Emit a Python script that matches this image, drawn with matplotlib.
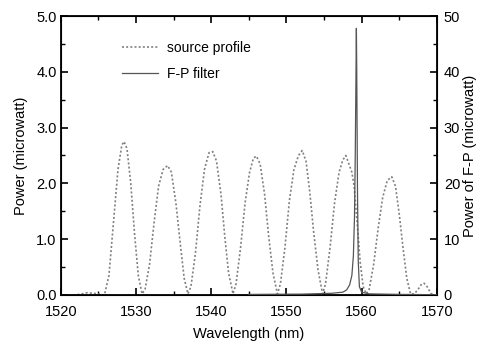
import matplotlib.pyplot as plt
from matplotlib.ticker import MultipleLocator

plt.rcParams['font.family'] = ['Liberation Sans', 'DejaVu Sans']

# source profile (left axis, microwatt)
src_wl = [1520.0, 1522.0, 1522.8, 1523.5, 1524.3, 1525.0, 1525.5,
          1525.8, 1526.4, 1527.0, 1527.6, 1528.1, 1528.4, 1528.8, 1529.3, 1529.8, 1530.3, 1530.8,
          1531.2, 1531.8, 1532.4, 1533.0, 1533.6, 1534.2, 1534.7, 1535.3, 1535.9, 1536.4, 1536.9,
          1537.3, 1537.9, 1538.5, 1539.1, 1539.7, 1540.2, 1540.7, 1541.3, 1541.8, 1542.3, 1542.9,
          1543.3, 1543.9, 1544.5, 1545.1, 1545.6, 1546.0, 1546.5, 1547.1, 1547.6, 1548.2, 1548.8,
          1549.2, 1549.8, 1550.4, 1551.0, 1551.6, 1552.1, 1552.6, 1553.1, 1553.6, 1554.2, 1554.8,
          1555.2, 1555.8, 1556.4, 1557.0, 1557.5, 1557.9, 1558.3, 1558.7, 1559.0, 1559.4, 1559.8,
          1560.2, 1560.6,
          1561.0, 1561.6, 1562.2, 1562.8, 1563.4, 1564.0, 1564.5, 1565.0, 1565.5, 1566.0, 1566.5,
          1567.0, 1567.5, 1568.0, 1568.3, 1568.7, 1569.2, 1569.6]
src_pw = [0.0, 0.0, 0.02, 0.04, 0.03, 0.02, 0.0,
          0.0, 0.35, 1.30, 2.25, 2.68, 2.75, 2.62, 2.00, 1.10, 0.35, 0.02,
          0.10, 0.55, 1.30, 1.95, 2.25, 2.32, 2.20, 1.65, 0.90, 0.30, 0.02,
          0.15, 0.75, 1.60, 2.25, 2.55, 2.57, 2.40, 1.80, 1.05, 0.40, 0.02,
          0.20, 0.85, 1.65, 2.20, 2.45, 2.49, 2.35, 1.80, 1.10, 0.40, 0.02,
          0.20, 0.85, 1.70, 2.25, 2.50, 2.59, 2.40, 1.85, 1.15, 0.45, 0.02,
          0.20, 0.85, 1.65, 2.20, 2.42, 2.50, 2.35, 2.20, 1.95, 1.30, 0.60,
          0.15, 0.02,
          0.10, 0.55, 1.20, 1.75, 2.05, 2.12, 1.95, 1.45, 0.85, 0.30, 0.02,
          0.02, 0.10, 0.20, 0.21, 0.15, 0.03, 0.0]

# F-P filter transmission (right axis, microwatt)
fp_wl = [1545.0, 1552.0, 1556.0, 1557.5, 1558.0, 1558.4, 1558.7, 1558.9, 1559.05, 1559.15,
         1559.25, 1559.3, 1559.35, 1559.45, 1559.55, 1559.7, 1560.0, 1561.0, 1565.0, 1570.0]
fp_pw = [0.1, 0.15, 0.3, 0.5, 0.9, 1.8, 3.5, 7.0, 14.0, 25.0,
         40.0, 47.8, 40.0, 18.0, 6.0, 1.5, 0.5, 0.2, 0.1, 0.05]

fig = plt.figure(figsize=(4.79, 3.41), dpi=100)
ax = fig.add_axes([0.127, 0.135, 0.785, 0.818])
ax2 = ax.twinx()

l1, = ax.plot(src_wl, src_pw, color='#808080', lw=1.2, ls=(0, (1.2, 1.3)), label='source profile')
l2, = ax2.plot(fp_wl, fp_pw, color='#555555', lw=0.9, label='F-P filter')

ax.set_xlim(1520, 1570)
ax.set_ylim(0, 5.0)
ax2.set_ylim(0, 50)

ax.xaxis.set_major_locator(MultipleLocator(10))
ax.xaxis.set_minor_locator(MultipleLocator(5))
ax.yaxis.set_major_locator(MultipleLocator(1.0))
ax.yaxis.set_minor_locator(MultipleLocator(0.5))
ax.yaxis.set_major_formatter(plt.FormatStrFormatter('%.1f'))
ax2.yaxis.set_major_locator(MultipleLocator(10))
ax2.yaxis.set_minor_locator(MultipleLocator(5))

ax.tick_params(axis='x', which='both', direction='in', top=True, labelsize=10.5, pad=7)
ax.tick_params(axis='y', which='both', direction='in', labelsize=10.5, pad=3)
ax.tick_params(which='major', length=5, width=1.2)
ax.tick_params(which='minor', length=3, width=1.0)
ax2.tick_params(axis='y', which='major', direction='in', length=5, width=1.2,
                labelsize=10.5, pad=5)
ax2.tick_params(axis='y', which='minor', direction='in', length=3, width=1.0)

for sp in ax.spines.values():
    sp.set_linewidth(1.3)

ax.set_xlabel('Wavelength (nm)', fontsize=10.5, labelpad=6)
ax.set_ylabel('Power (microwatt)', fontsize=10.5, labelpad=6)
ax2.set_ylabel('Power of F-P (microwatt)', fontsize=10.5)
ax2.yaxis.set_label_coords(1.07, 0.5)

ax2.legend([l1, l2], ['source profile', 'F-P filter'], loc='upper left',
           bbox_to_anchor=(0.13, 0.955), frameon=False, fontsize=10,
           handlelength=2.6, handletextpad=0.6, labelspacing=0.85)

fig.savefig('out.png', dpi=100)
